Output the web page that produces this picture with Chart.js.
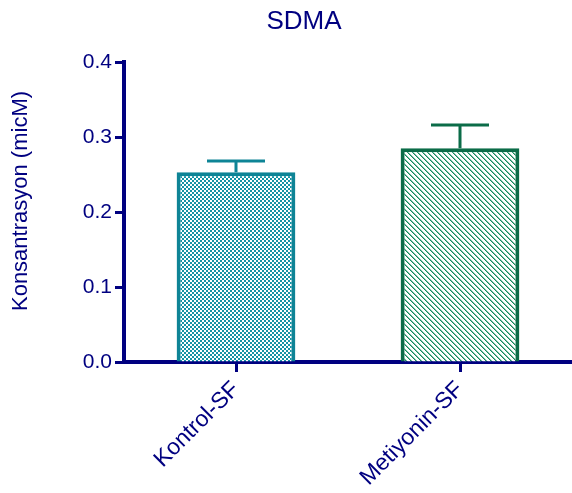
<!DOCTYPE html>
<html>
<head>
<meta charset="utf-8">
<script src="https://cdn.jsdelivr.net/npm/chart.js@4"></script>
<style>
  html, body { margin: 0; padding: 0; background: #fff; }
  #wrap { width: 572px; height: 493px; position: relative; }
</style>
</head>
<body>
<div id="wrap"><canvas id="c"></canvas></div>
<script>
// SDMA concentration by group (mean with upper error)
const categories = ['Kontrol-SF', 'Metiyonin-SF'];
const means = [0.253, 0.285];
const errors = [0.015, 0.031];
const yTicks = [0.0, 0.1, 0.2, 0.3, 0.4];
const yTitle = 'Konsantrasyon (micM)';
const chartTitle = 'SDMA';

const NAVY = '#000080';
const FONT = '"Liberation Sans", Arial, sans-serif';
const borderColors = ['#0e8496', '#0b6c48'];

// Fill patterns: a fine checkerboard and a "\" hatch
function checkerPattern(color) {
  const t = document.createElement('canvas');
  t.width = 4; t.height = 4;
  const g = t.getContext('2d');
  g.fillStyle = '#fff'; g.fillRect(0, 0, 4, 4);
  g.fillStyle = color;
  g.fillRect(0, 0, 2, 2);
  g.fillRect(2, 2, 2, 2);
  return g.createPattern(t, 'repeat');
}
function hatchPattern(color) {
  const n = 5;
  const t = document.createElement('canvas');
  t.width = n; t.height = n;
  const g = t.getContext('2d');
  g.fillStyle = '#fff'; g.fillRect(0, 0, n, n);
  g.fillStyle = color;
  for (let y = 0; y < n; y++) {
    for (let x = 0; x < n; x++) {
      const d = ((x - y) % n + n) % n;
      if (d === 0) g.fillRect(x, y, 1, 1);
      if (d === 1) { g.globalAlpha = 0.55; g.fillRect(x, y, 1, 1); g.globalAlpha = 1; }
    }
  }
  return g.createPattern(t, 'repeat');
}
const fills = [checkerPattern('#1593a4'), hatchPattern('#138a5c')];

// Upper error whiskers with caps
const errorBars = {
  id: 'errorBars',
  afterDatasetsDraw(chart) {
    const ctx = chart.ctx;
    const yScale = chart.scales.y;
    const meta = chart.getDatasetMeta(0);
    meta.data.forEach((bar, i) => {
      const yTop = yScale.getPixelForValue(means[i] + errors[i]);
      const yBar = yScale.getPixelForValue(means[i]);
      const half = 29;
      ctx.save();
      ctx.strokeStyle = borderColors[i];
      ctx.lineWidth = 3;
      ctx.beginPath();
      ctx.moveTo(bar.x, yBar);
      ctx.lineTo(bar.x, yTop);
      ctx.moveTo(bar.x - half, yTop);
      ctx.lineTo(bar.x + half, yTop);
      ctx.stroke();
      ctx.restore();
    });
  }
};

// Heading and rotated value-axis caption
const captions = {
  id: 'captions',
  afterDraw(chart) {
    const ctx = chart.ctx;
    ctx.save();
    ctx.fillStyle = NAVY;
    ctx.font = '26px ' + FONT;
    ctx.textAlign = 'center';
    ctx.textBaseline = 'alphabetic';
    ctx.fillText(chartTitle, 304, 29);

    ctx.translate(21, 201);
    ctx.rotate(-Math.PI / 2);
    ctx.font = '22px ' + FONT;
    ctx.textBaseline = 'middle';
    ctx.fillText(yTitle, 0, 0);
    ctx.restore();
  }
};

new Chart(document.getElementById('c'), {
  type: 'bar',
  data: {
    labels: categories,
    datasets: [{
      data: means,
      backgroundColor: fills,
      borderColor: borderColors,
      borderWidth: 4,
      borderSkipped: 'start',
      barPercentage: 0.53,
      categoryPercentage: 1.0
    }]
  },
  options: {
    responsive: true,
    maintainAspectRatio: false,
    animation: false,
    devicePixelRatio: 1,
    layout: { padding: { top: 62, left: 0, right: 0, bottom: 0 } },
    plugins: {
      legend: { display: false },
      tooltip: { enabled: false },
      title: { display: false }
    },
    scales: {
      x: {
        offset: true,
        border: { display: true, color: NAVY, width: 4 },
        grid: {
          display: true,
          drawOnChartArea: false,
          drawTicks: true,
          tickLength: 10,
          tickWidth: 3,
          tickColor: NAVY,
          offset: false
        },
        ticks: {
          color: NAVY,
          font: { family: FONT, size: 23 },
          minRotation: 45,
          maxRotation: 45,
          padding: 4,
          autoSkip: false
        },
        afterFit(scale) { scale.height = 493 - 362; }
      },
      y: {
        min: 0,
        max: 0.4,
        afterBuildTicks(scale) { scale.ticks = yTicks.map(v => ({ value: v })); },
        border: { display: true, color: NAVY, width: 4 },
        grid: {
          display: true,
          drawOnChartArea: false,
          drawTicks: true,
          tickLength: 9,
          tickWidth: 3,
          tickColor: NAVY
        },
        ticks: {
          color: NAVY,
          font: { family: FONT, size: 21 },
          padding: 3,
          callback: v => Number(v).toFixed(1)
        },
        afterFit(scale) { scale.width = 124; }
      }
    }
  },
  plugins: [errorBars, captions]
});
</script>
</body>
</html>
